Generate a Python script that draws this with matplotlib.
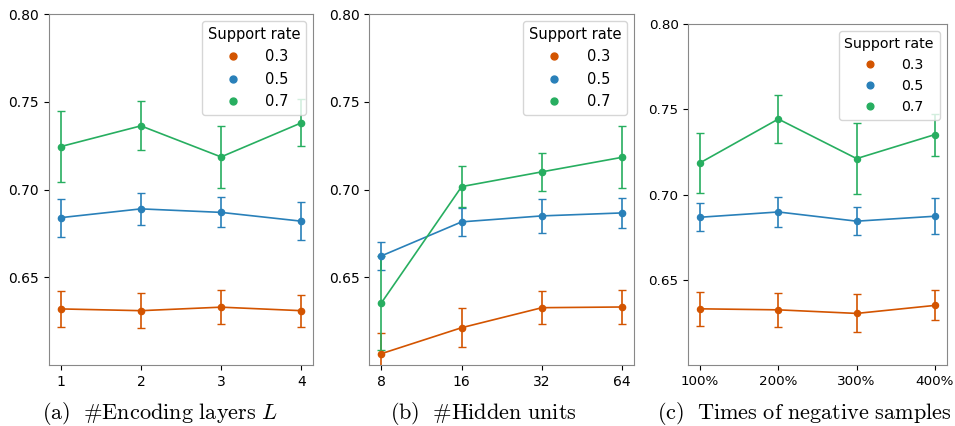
import matplotlib
matplotlib.use("Agg")
import matplotlib.pyplot as plt
from matplotlib.lines import Line2D

plt.rcParams['mathtext.fontset'] = 'cm'
plt.rcParams['font.family'] = ['DejaVu Sans']

rates = ['0.3', '0.5', '0.7']
colors = ['#d35400', '#2980b9', '#27ae60']

# (a) encoding layers
layers_ticks = ['1', '2', '3', '4']
layers_mean = [
    [0.632, 0.631, 0.633, 0.631],
    [0.684, 0.689, 0.687, 0.682],
    [0.7245, 0.7363, 0.7186, 0.738],
]
layers_err = [
    [0.0104, 0.0099, 0.0098, 0.0092],
    [0.0108, 0.0090, 0.0085, 0.0107],
    [0.0200, 0.0140, 0.0177, 0.0134],
]

# (b) hidden units
hidden_ticks = ['8', '16', '32', '64']
hidden_mean = [
    [0.6065, 0.6213, 0.6327, 0.6331],
    [0.6622, 0.6816, 0.6850, 0.6867],
    [0.6354, 0.7017, 0.7101, 0.7184],
]
hidden_err = [
    [0.0120, 0.0110, 0.0094, 0.0098],
    [0.0080, 0.0078, 0.0097, 0.0084],
    [0.0270, 0.0116, 0.0110, 0.0177],
]

# (c) times of negative samples
neg_ticks = ['100%', '200%', '300%', '400%']
neg_mean = [
    [0.6330, 0.6324, 0.6303, 0.6350],
    [0.6867, 0.6898, 0.6844, 0.6873],
    [0.7186, 0.7443, 0.7211, 0.7352],
]
neg_err = [
    [0.0099, 0.0100, 0.0111, 0.0088],
    [0.0083, 0.0088, 0.0082, 0.0105],
    [0.0177, 0.0140, 0.0210, 0.0123],
]

fig = plt.figure(figsize=(9.55, 4.26), dpi=100)

panels = [
    ([0.051, 0.143, 0.277, 0.824], layers_ticks, layers_mean, layers_err, 1.0,
     r'$\mathrm{(a)}\ \ \#\mathrm{Encoding\ layers}\ L$', 0.168),
    ([0.3867, 0.143, 0.2775, 0.824], hidden_ticks, hidden_mean, hidden_err, 1.0,
     r'$\mathrm{(b)}\ \ \#\mathrm{Hidden\ units}$', 0.506),
    ([0.7207, 0.143, 0.2706, 0.8005], neg_ticks, neg_mean, neg_err, 0.97,
     r'$\mathrm{(c)\ \ Times\ of\ negative\ samples}$', 0.842),
]

for rect, ticks, means, errs, k, caption, cx in panels:
    ax = fig.add_axes(rect)
    x = list(range(len(ticks)))
    for m, e, c in zip(means, errs, colors):
        ax.errorbar(x, m, yerr=e, color=c, marker='o', markersize=4.5 * k,
                    linewidth=1.2, capsize=3.2 * k, elinewidth=1.2, capthick=1.0)
    ax.set_ylim(0.60, 0.80)
    ax.set_yticks([0.65, 0.70, 0.75, 0.80])
    ax.set_yticklabels(['0.65', '0.70', '0.75', '0.80'])
    ax.set_xticks(x)
    ax.set_xticklabels(ticks)
    ax.tick_params(labelsize=10 * k)
    for s in ax.spines.values():
        s.set_color('#888888')
    handles = [Line2D([], [], color=c, marker='o', linestyle='none', markersize=5 * k)
               for c in colors]
    ax.legend(handles, rates, title='Support rate', loc='upper right',
              fontsize=10.5 * k, title_fontsize=10.5 * k, handletextpad=1.2)
    fig.text(cx, 0.03, caption, ha='center', va='center', fontsize=16)

fig.savefig('out.png', dpi=100)
